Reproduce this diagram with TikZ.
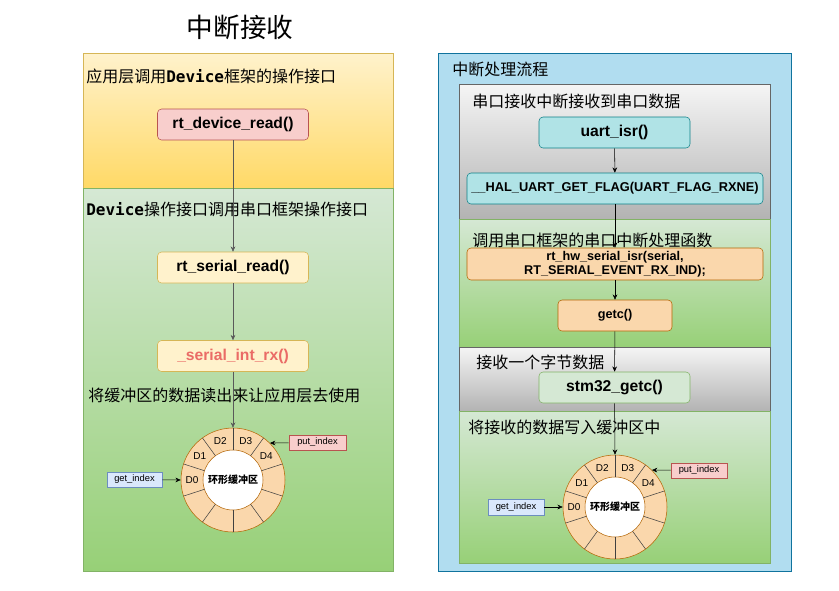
\documentclass[tikz,border=0pt]{standalone}
\usepackage{fontspec}
\setmainfont{Liberation Sans}
\setmonofont{DejaVu Sans Mono}
\newfontfamily\cjk{Noto Sans CJK SC}
\usetikzlibrary{arrows.meta, positioning, calc}

\definecolor{yelfill}{HTML}{FFF2CC}
\definecolor{yeldark}{HTML}{FFD966}
\definecolor{yelline}{HTML}{D6B656}
\definecolor{grnfill}{HTML}{D5E8D4}
\definecolor{grndark}{HTML}{97D077}
\definecolor{grnline}{HTML}{82B366}
\definecolor{redfill}{HTML}{F8CECC}
\definecolor{redline}{HTML}{B85450}
\definecolor{redtext}{HTML}{EA6B66}
\definecolor{bluefill}{HTML}{DAE8FC}
\definecolor{blueline}{HTML}{6C8EBF}
\definecolor{skyfill}{HTML}{B1DDF0}
\definecolor{skyline}{HTML}{10739E}
\definecolor{tealfill}{HTML}{B0E3E6}
\definecolor{tealline}{HTML}{0E8088}
\definecolor{orgfill}{HTML}{FAD7AC}
\definecolor{orgline}{HTML}{B46504}
\definecolor{greyfill}{HTML}{F5F5F5}
\definecolor{greydark}{HTML}{B3B3B3}
\definecolor{greyline}{HTML}{666666}

\begin{document}
\begin{tikzpicture}[x=0.75pt, y=-0.75pt,
    func/.style={draw, rounded corners=3pt, minimum width=113.25pt, minimum height=23.25pt,
      inner sep=1pt, align=center, font=\bfseries\fontsize{11.75}{13}\selectfont},
    small/.style={font=\bfseries\fontsize{9.5}{10.5}\selectfont},
    idx/.style={draw, minimum height=11.25pt, inner sep=1pt, font=\fontsize{7}{8}\selectfont},
    ring/.style={circle, draw=orgline, fill=orgfill, minimum size=78pt, inner sep=0pt},
    head/.style={anchor=west, inner sep=0pt, font=\fontsize{12}{14}\selectfont},
    flow/.style={-{Stealth[length=4pt, width=3.5pt]}, thin}]
    \useasboundingbox (0,0) rectangle (839,590);

    % Title
    \node[font=\cjk\fontsize{20}{24}\selectfont] (title) at (240,27) {中断接收};

    % Left panel: application layer -> device -> serial framework
    \draw[yelline, top color=yelfill, bottom color=yeldark] (83,53) rectangle (393,188);
    \draw[grnline, top color=grnfill, bottom color=grndark] (83,188) rectangle (393,571);
    \node[head] (appL) at (86,76) {{\cjk 应用层调用}{\ttfamily\bfseries Device}{\cjk 框架的操作接口}};
    \node[head] (devL) at (86,209) {{\ttfamily\bfseries Device}{\cjk 操作接口调用串口框架操作接口}};
    \node[head] (useL) at (88,395) {\cjk 将缓冲区的数据读出来让应用层去使用};

    \node[func, fill=redfill, draw=redline] (devread) at (233,124.5) {rt\_device\_read()};
    \node[func, fill=yelfill, draw=yelline] (serread) at (233,267.5) {rt\_serial\_read()};
    \node[func, fill=yelfill, draw=yelline, text=redtext] (intrx) at (233,356) {\_serial\_int\_rx()};

    % Ring buffer (left)
    \node[ring] (bufL) at (233,480) {};
    \draw[orgline, fill=white] (bufL.center) circle [radius=22.5pt];
    \foreach \a in {18,54,...,342}
        \draw[black!75] ([shift={(\a:22.5pt)}]bufL.center) -- ([shift={(\a:39pt)}]bufL.center);
    \foreach \i/\a in {0/180,1/144,2/108,3/72,4/36}
        \node[font=\fontsize{7.5}{9}\selectfont, inner sep=0pt] at ([shift={(\a:30.75pt)}]bufL.center) {D\i};
    \node[font=\cjk\bfseries\fontsize{7.5}{9}\selectfont] (bufLtxt) at (bufL.center) {环形缓冲区};
    \node[idx, fill=bluefill, draw=blueline, minimum width=41.25pt] (getL) at (134.5,479.5) {get\_index};
    \node[idx, fill=redfill, draw=redline, minimum width=42.75pt] (putL) at (317.5,442.5) {put\_index};

    \draw[flow, black!65] (devread) -- (serread);
    \draw[flow, black!65] (serread) -- (intrx);
    \draw[flow, black!65] (intrx) -- (bufL.north);
    \draw[flow] (getL) -- (bufL.west);
    \draw[flow] (putL) -- (bufL.45);

    % Right panel: interrupt handling flow
    \draw[skyline, fill=skyfill] (438,53) rectangle (791,571);
    \node[head, font=\cjk\fontsize{12}{14}\selectfont] (flowR) at (452,69) {中断处理流程};
    \draw[greyline, top color=greyfill, bottom color=greydark] (459,84) rectangle (770,219);
    \draw[grnline, top color=grnfill, bottom color=grndark] (459,219) rectangle (770,347);
    \draw[greyline, top color=greyfill, bottom color=greydark] (459,347) rectangle (770,411);
    \draw[grnline, top color=grnfill, bottom color=grndark] (459,411) rectangle (770,563);
    \node[head, font=\cjk\fontsize{12}{14}\selectfont] (rxR) at (472,101) {串口接收中断接收到串口数据};
    \node[head, font=\cjk\fontsize{12}{14}\selectfont] (isrR) at (472,240) {调用串口框架的串口中断处理函数};
    \node[head, font=\cjk\fontsize{12}{14}\selectfont] (byteR) at (476,362) {接收一个字节数据};
    \node[head, font=\cjk\fontsize{12}{14}\selectfont] (writeR) at (468,427) {将接收的数据写入缓冲区中};

    \node[func, fill=tealfill, draw=tealline] (uartisr) at (614.5,132.5) {uart\_isr()};
    \node[func, fill=tealfill, draw=tealline, minimum width=222pt,
        font=\bfseries\fontsize{9.6}{11}\selectfont] (halflag) at (615,188.5)
        {\_\_HAL\_UART\_GET\_FLAG(UART\_FLAG\_RXNE)};
    \node[func, small, fill=orgfill, draw=orgline, minimum width=222pt, minimum height=24pt] (hwisr) at (615,264)
        {rt\_hw\_serial\_isr(serial,\\RT\_SERIAL\_EVENT\_RX\_IND);};
    \node[func, small, fill=orgfill, draw=orgline, minimum width=85.5pt] (getc) at (615,315.5) {getc()};
    \node[func, fill=grnfill, draw=grnline] (stmgetc) at (614.5,387.5) {stm32\_getc()};

    % Ring buffer (right)
    \node[ring] (bufR) at (615,507) {};
    \draw[orgline, fill=white] (bufR.center) circle [radius=22.5pt];
    \foreach \a in {18,54,...,342}
        \draw[black!75] ([shift={(\a:22.5pt)}]bufR.center) -- ([shift={(\a:39pt)}]bufR.center);
    \foreach \i/\a in {0/180,1/144,2/108,3/72,4/36}
        \node[font=\fontsize{7.5}{9}\selectfont, inner sep=0pt] at ([shift={(\a:30.75pt)}]bufR.center) {D\i};
    \node[font=\cjk\bfseries\fontsize{7.5}{9}\selectfont] (bufRtxt) at (bufR.center) {环形缓冲区};
    \node[idx, fill=bluefill, draw=blueline, minimum width=42pt, minimum height=12pt] (getR) at (516,507) {get\_index};
    \node[idx, fill=redfill, draw=redline, minimum width=42pt] (putR) at (699,470.5) {put\_index};

    \draw[flow] (uartisr) -- (halflag);
    \draw[flow] (halflag.south -| hwisr.north) -- (hwisr);
    \draw[flow] (hwisr) -- (getc);
    \draw[flow] (getc) -- (stmgetc);
    \draw[flow] (stmgetc) -- (bufR.north);
    \draw[flow] (getR) -- (bufR.west);
    \draw[flow] (putR) -- (bufR.45);
\end{tikzpicture}
\end{document}
